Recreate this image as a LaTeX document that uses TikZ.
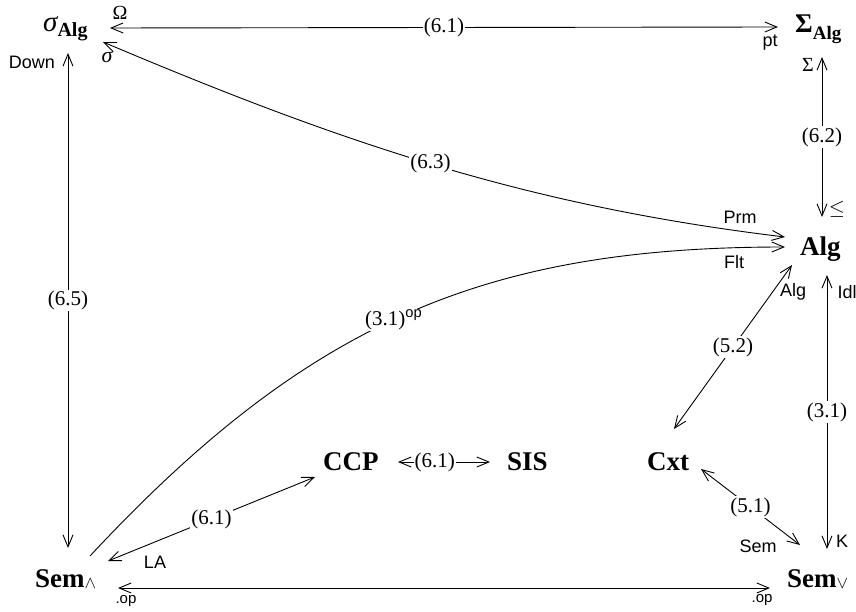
\documentclass[tikz,border=0pt]{standalone}
\usepackage{fontspec}
\setmainfont{Liberation Serif}
\setsansfont{Liberation Sans}
\usetikzlibrary{arrows.meta,calc}
\tikzset{
  obj/.style={font=\fontsize{27}{27}\selectfont\bfseries, inner sep=0pt, anchor=base west},
  num/.style={font=\fontsize{21}{21}\selectfont, fill=white, inner sep=1pt},
  lab/.style={font=\sffamily\fontsize{18}{18}\selectfont, inner sep=0pt},
  slab/.style={font=\fontsize{20}{20}\selectfont, inner sep=0pt},
  ar/.style={line width=0.9pt, {Straight Barb[length=12pt,width=10pt]}-{Straight Barb[length=12pt,width=10pt]}},
  ra/.style={line width=0.9pt, -{Straight Barb[length=12pt,width=10pt]}}
}
\begin{document}
\begin{tikzpicture}[x=1pt,y=-1pt]
\useasboundingbox (0,0) rectangle (856,612);
% objects
\node[obj] (sig) at (43,32) {\mdseries\fontsize{29}{29}\selectfont\itshape σ\raisebox{-5pt}{\upshape\bfseries\fontsize{20}{20}\selectfont Alg}};
\node[obj] (Sig) at (795,33) {Σ\raisebox{-7pt}{\fontsize{19}{19}\selectfont Alg}};
\node[obj] (alg) at (800,255) {Alg};
\node[obj] (cxt) at (647,470) {Cxt};
\node[obj] (ccp) at (323,470) {CCP};
\node[obj] (sis) at (507,470) {SIS};
\node[obj] (semA) at (35,587) {Sem\raisebox{-1pt}{\mdseries\fontsize{18}{18}\selectfont$\wedge$}};
\node[obj] (semV) at (787,587) {Sem\raisebox{-1pt}{\mdseries\fontsize{18}{18}\selectfont$\vee$}};
% connectors
\draw[ar] ([shift={(67,-4)}]sig.base west) -- node[num] (n61a) {(6.1)} ([shift={(-17,-6)}]Sig.base west);
\draw[ar] ([shift={(25,21)}]sig.base west) -- node[num] (n65) {(6.5)} ([shift={(33,-39)}]semA.base west);
\draw[ar] ([shift={(27,24)}]Sig.base west) -- node[num] (n62) {(6.2)} ([shift={(22,-38)}]alg.base west);
\draw[ar] ([shift={(27,20)}]alg.base west) -- node[num] (n31) {(3.1)} ([shift={(40,-38)}]semV.base west);
\draw[ar] ([shift={(60,10)}]sig.base west) .. controls +(239,101) and +(-258,-31) .. ([shift={(-15,-18)}]alg.base west) node[num,pos=0.49] (n63) {(6.3)};
\draw[ra] ([shift={(55,-31)}]semA.base west) .. controls +(218,-234) and +(-300,0) .. ([shift={(-15,-8)}]alg.base west) node[num,pos=0.48] (n31op) {(3.1)\textsuperscript{\sffamily op}};
\draw[ar] ([shift={(-8,10)}]alg.base west) -- node[num] (n52) {(5.2)} ([shift={(27,-41)}]cxt.base west);
\draw[ar] ([shift={(54,-1)}]cxt.base west) -- node[num] (n51) {(5.1)} ([shift={(13,-42)}]semV.base west);
\draw[ar] ([shift={(73,-26)}]semA.base west) -- node[num] (n61b) {(6.1)} ([shift={(-8,7)}]ccp.base west);
\draw[ar] ([shift={(75,-8)}]ccp.base west) -- node[num,pos=0.4] (n61c) {(6.1)} ([shift={(-17,-8)}]sis.base west);
\draw[ar] ([shift={(83,1)}]semA.base west) -- ([shift={(-17,1)}]semV.base west);
% end labels
\node[slab] (lOm) at (120,13) {Ω};
\node[lab] (lpt) at (770,43) {pt};
\node[slab,font=\fontsize{22}{22}\selectfont\itshape] (lsig) at (107,57) {σ};
\node[lab] (ldown) at (32,62) {Down};
\node[slab] (lSig) at (808,65) {Σ};
\node[slab] (lleq) at (837,209) {$\leq$};
\node[lab] (lprm) at (740,217) {Prm};
\node[lab] (lflt) at (734,262) {Flt};
\node[lab] (lalg) at (793,292) {Alg};
\node[lab] (lidl) at (847,292) {Idl};
\node[lab] (lsem) at (758,546) {Sem};
\node[lab] (lK) at (842,541) {K};
\node[lab] (lLA) at (155,562) {LA};
\node[lab,font=\sffamily\fontsize{15}{15}\selectfont] (lop1) at (126,601) {.op};
\node[lab,font=\sffamily\fontsize{15}{15}\selectfont] (lop2) at (762,600) {.op};
\end{tikzpicture}
\end{document}
